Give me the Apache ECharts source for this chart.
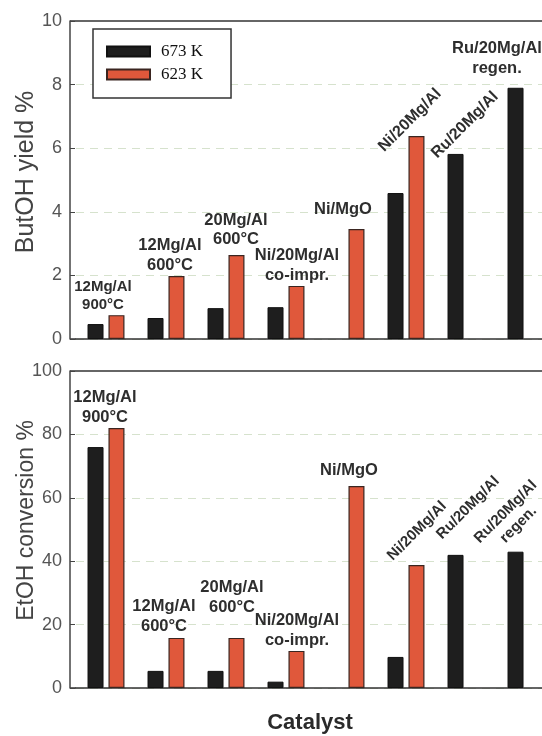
<!DOCTYPE html>
<html>
<head>
<meta charset="utf-8">
<script src="https://cdn.jsdelivr.net/npm/echarts@6/dist/echarts.min.js"></script>
<style>
  html, body { margin: 0; padding: 0; background: #fff; overflow: hidden; }
  /* the plot runs past the right edge of the window, as in the source figure */
  #chart { width: 560px; height: 736px; }
</style>
</head>
<body>
<div id="chart"></div>
<script>
// catalysts, left to right
const categories = ['12Mg/Al 900°C', '12Mg/Al 600°C', '20Mg/Al 600°C', 'Ni/20Mg/Al co-impr.',
  'Ni/MgO', 'Ni/20Mg/Al', 'Ru/20Mg/Al', 'Ru/20Mg/Al regen.']
const barLabels = ['12Mg/Al\n900°C', '12Mg/Al\n600°C', '20Mg/Al\n600°C', 'Ni/20Mg/Al\nco-impr.',
  'Ni/MgO', 'Ni/20Mg/Al', 'Ru/20Mg/Al', 'Ru/20Mg/Al\nregen.']
const seriesNames = ['673 K', '623 K']

// ButOH yield %
const yield673 = [0.47, 0.66, 0.97, 1.0, null, 4.59, 5.82, 7.9]
const yield623 = [0.75, 1.98, 2.64, 1.67, 3.46, 6.38, null, null]
// EtOH conversion %
const conv673 = [76, 5.4, 5.4, 2.0, null, 9.8, 42, 43]
const conv623 = [82, 15.8, 15.8, 11.7, 63.7, 38.8, null, null]

const yieldTicks = { min: 0, max: 10, interval: 2 }
const convTicks = { min: 0, max: 100, interval: 20 }

// label placement relative to the top centre of the bar, rotation and size
const yieldLabelPos = [[-13.5, -1.5], [-6.5, -1], [-0.5, -5.5], [0.5, -1], [-13.5, -10], [-6.5, -16], [9.5, -29], [-18.5, -10]]
const yieldLabelRot = [0, 0, 0, 0, 0, 45, 45, 0]
const yieldLabelSize = [15, 16.5, 16.5, 16.5, 16.5, 16, 16, 16.5]
const convLabelPos = [[-11.5, -1], [-12.5, -2], [-4.5, -21], [0.5, -1], [-7.5, -6], [0.5, -34], [12.5, -47], [-3.5, -33.5]]
const convLabelRot = [0, 0, 0, 0, 0, 45, 45, 45]
const convLabelSize = [16.5, 16.5, 16.5, 16.5, 16.5, 15, 15, 15]

const BLACK = '#1e1e1e'
const ORANGE = '#e0583b'
const BAR_W = 16
const AXIS_X = 70
const GRID_L = 76
const TOPS = [21, 371]
const HEIGHTS = [318, 317]

const chart = echarts.init(document.getElementById('chart'))

function barData(vals, otherVals, isOrange, pos, rot, size) {
  return vals.map(function(v, i) {
    if (v == null) return '-'
    const owner = isOrange ? true : otherVals[i] == null
    if (!owner) return v
    return {
      value: v,
      label: {
        show: true,
        formatter: barLabels[i],
        position: [BAR_W / 2 + pos[i][0], pos[i][1]],
        rotate: rot[i],
        fontSize: size[i],
        lineHeight: size[i] + 3,
        align: 'center',
        verticalAlign: rot[i] ? 'middle' : 'bottom'
      }
    }
  })
}

const labelStyle = {
  fontFamily: 'Liberation Sans, Arial, sans-serif',
  fontWeight: 'bold',
  color: '#2e2e2e'
}

function makeSeries(gridIdx, v673, v623, pos, rot, size) {
  return [
    {
      name: seriesNames[0],
      type: 'bar',
      xAxisIndex: gridIdx * 2,
      yAxisIndex: gridIdx,
      barWidth: BAR_W,
      barGap: '31%',
      itemStyle: { color: BLACK, borderColor: '#111', borderWidth: 1 },
      label: Object.assign({ show: false }, labelStyle),
      data: barData(v673, v623, false, pos, rot, size)
    },
    {
      name: seriesNames[1],
      type: 'bar',
      xAxisIndex: gridIdx * 2,
      yAxisIndex: gridIdx,
      barWidth: BAR_W,
      barGap: '31%',
      itemStyle: { color: ORANGE, borderColor: '#3a2520', borderWidth: 1.2 },
      label: Object.assign({ show: false }, labelStyle),
      data: barData(v623, v673, true, pos, rot, size)
    }
  ]
}

function bottomAxis(gridIdx, extra) {
  return Object.assign({
    gridIndex: gridIdx,
    type: 'category',
    data: categories,
    axisLine: { onZero: false, lineStyle: { color: '#333', width: 1.5 } },
    axisTick: { alignWithLabel: true, length: 6, lineStyle: { color: '#333', width: 1.2 } },
    axisLabel: { show: false },
    splitLine: { show: false }
  }, extra || {})
}

function topAxis(gridIdx) {
  return {
    gridIndex: gridIdx,
    type: 'category',
    position: 'top',
    data: categories,
    axisLine: { onZero: false, lineStyle: { color: '#666', width: 2 } },
    axisTick: { show: false },
    axisLabel: { show: false },
    splitLine: { show: false }
  }
}

function valueAxis(gridIdx, ticks, name, nameSize, nameGap, namePad) {
  return {
    gridIndex: gridIdx,
    type: 'value',
    min: ticks.min,
    max: ticks.max,
    interval: ticks.interval,
    offset: GRID_L - AXIS_X,
    name: name,
    nameLocation: 'middle',
    nameGap: nameGap,
    nameMoveOverlap: false,
    nameTextStyle: {
      fontFamily: 'Liberation Sans, Arial, sans-serif',
      fontSize: nameSize,
      color: '#444',
      padding: namePad
    },
    axisLine: { show: true, lineStyle: { color: '#444', width: 1.5 } },
    axisTick: { show: true, inside: true, length: 5, lineStyle: { color: '#444' } },
    axisLabel: {
      fontFamily: 'Liberation Sans, Arial, sans-serif',
      fontSize: 18,
      color: '#555',
      margin: 8
    },
    splitLine: { show: true, lineStyle: { color: '#d6e2cd', type: [8, 6], width: 1 } }
  }
}

// short pieces joining the frame lines to the y axis line
const joins = []
TOPS.forEach(function(t, i) {
  joins.push({ type: 'line', shape: { x1: AXIS_X, y1: t, x2: GRID_L, y2: t }, style: { stroke: '#666', lineWidth: 2 } })
  joins.push({ type: 'line', shape: { x1: AXIS_X, y1: t + HEIGHTS[i], x2: GRID_L, y2: t + HEIGHTS[i] }, style: { stroke: '#333', lineWidth: 1.5 } })
})

chart.setOption({
  animation: false,
  backgroundColor: '#fff',
  grid: [
    { left: GRID_L, top: TOPS[0], width: 480, height: HEIGHTS[0] },
    { left: GRID_L, top: TOPS[1], width: 480, height: HEIGHTS[1] }
  ],
  legend: {
    data: seriesNames,
    orient: 'vertical',
    left: 93,
    top: 29,
    icon: 'rect',
    itemWidth: 43,
    itemHeight: 10,
    itemGap: 6,
    padding: [14, 28, 15, 13],
    borderColor: '#333',
    borderWidth: 1.5,
    backgroundColor: '#fff',
    selectedMode: false,
    textStyle: {
      fontFamily: 'Liberation Serif, Times New Roman, serif',
      fontSize: 17,
      color: '#111',
      padding: [0, 0, 0, 6]
    }
  },
  xAxis: [
    bottomAxis(0),
    topAxis(0),
    bottomAxis(1, {
      name: 'Catalyst',
      nameLocation: 'middle',
      nameGap: 24,
      nameMoveOverlap: false,
      nameTextStyle: {
        fontFamily: 'Liberation Sans, Arial, sans-serif',
        fontSize: 22,
        fontWeight: 'bold',
        color: '#2a2a2a',
        padding: [0, 12, 0, 0]
      }
    }),
    topAxis(1)
  ],
  yAxis: [
    valueAxis(0, yieldTicks, 'ButOH yield %', 25, 31, [0, 0, 0, 16]),
    valueAxis(1, convTicks, 'EtOH conversion %', 23, 32, [0, 0, 0, 18])
  ],
  graphic: joins,
  series: [].concat(
    makeSeries(0, yield673, yield623, yieldLabelPos, yieldLabelRot, yieldLabelSize),
    makeSeries(1, conv673, conv623, convLabelPos, convLabelRot, convLabelSize)
  )
})
</script>
</body>
</html>
